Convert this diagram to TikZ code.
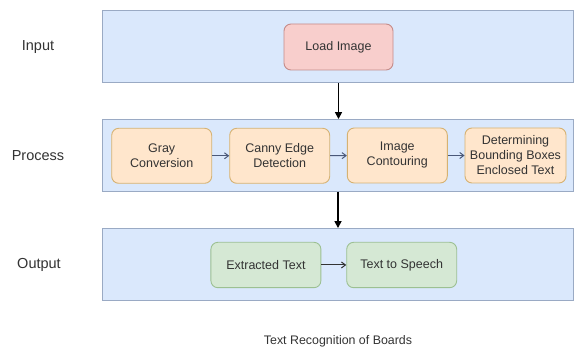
\documentclass[tikz,border=0pt]{standalone}
\usepackage{fontspec}
\setmainfont{Liberation Sans}
\usetikzlibrary{arrows.meta}
\definecolor{bandfill}{HTML}{DAE8FC}
\definecolor{banddraw}{HTML}{9AAAC4}
\definecolor{redfill}{HTML}{F8CECC}
\definecolor{reddraw}{HTML}{C48C8A}
\definecolor{orgfill}{HTML}{FFE6CC}
\definecolor{orgdraw}{HTML}{D6B272}
\definecolor{grnfill}{HTML}{D5E8D4}
\definecolor{grndraw}{HTML}{9CC092}
\definecolor{txt}{HTML}{333333}
\definecolor{smallarrow}{HTML}{4A5878}
\tikzset{
  band/.style={draw=banddraw, fill=bandfill, line width=0.9pt, minimum width=470.3pt, minimum height=72pt, inner sep=0pt},
  boxbase/.style={rounded corners=7pt, line width=0.9pt, align=center, text=txt, font=\fontsize{12.5}{15}\selectfont, inner sep=0pt},
  redbox/.style={boxbase, draw=reddraw, fill=redfill, minimum width=109pt, minimum height=46pt},
  orgbox/.style={boxbase, draw=orgdraw, fill=orgfill, minimum width=100pt, minimum height=55pt},
  grnbox/.style={boxbase, draw=grndraw, fill=grnfill, minimum width=110pt, minimum height=45.4pt},
  rowlabel/.style={text=txt, font=\fontsize{14.5}{17}\selectfont},
  bigarrow/.style={draw=black, line width=1.6pt, -{Triangle[length=7pt,width=7pt]}},
  smallarr/.style={draw=smallarrow, line width=1pt, -{Straight Barb[length=4pt,width=6pt]}},
  outarr/.style={draw=txt, line width=1pt, -{Straight Barb[length=4pt,width=6pt]}}
}
\begin{document}
\begin{tikzpicture}[x=1pt,y=-1pt]
\useasboundingbox (0,0) rectangle (574,347);
\fill[white] (0,0) rectangle (574,347);
% bands
\node[band] (inband) at (337.85,46.85) {};
\node[band] (procband) at (337.85,155.5) {};
\node[band] (outband) at (337.85,264.5) {};
% row labels
\node[rowlabel] (linput) at (38,47) {Input};
\node[rowlabel] (lprocess) at (38,156) {Process};
\node[rowlabel] (loutput) at (39,265) {Output};
% boxes
\node[redbox] (load) at (338.5,47) {Load Image};
\node[orgbox] (gray) at (161.7,155.8) {Gray\\Conversion};
\node[orgbox] (canny) at (279.7,155.8) {Canny Edge\\Detection};
\node[orgbox] (contour) at (397.3,155.5) {Image\\Contouring};
\node[orgbox, minimum width=101pt] (bbox) at (515.5,155.5) {Determining\\Bounding Boxes\\Enclosed Text};
\node[grnbox] (extract) at (265.9,265) {Extracted Text};
\node[grnbox] (tts) at (401.7,265) {Text to Speech};
% connectors
\draw[bigarrow] (load.south |- inband.south) -- (load.south |- procband.north);
\coordinate (midx) at (338,0);
\draw[bigarrow] (midx |- procband.south) -- (midx |- outband.north);
\draw[smallarr] (gray) -- (canny);
\draw[smallarr] (canny) -- (contour);
\draw[smallarr] (contour) -- (bbox);
\draw[outarr] (extract) -- (tts);
% caption
\node[text=txt, font=\fontsize{12.4}{15}\selectfont] (caption) at (338,341) {Text Recognition of Boards};
\end{tikzpicture}
\end{document}
